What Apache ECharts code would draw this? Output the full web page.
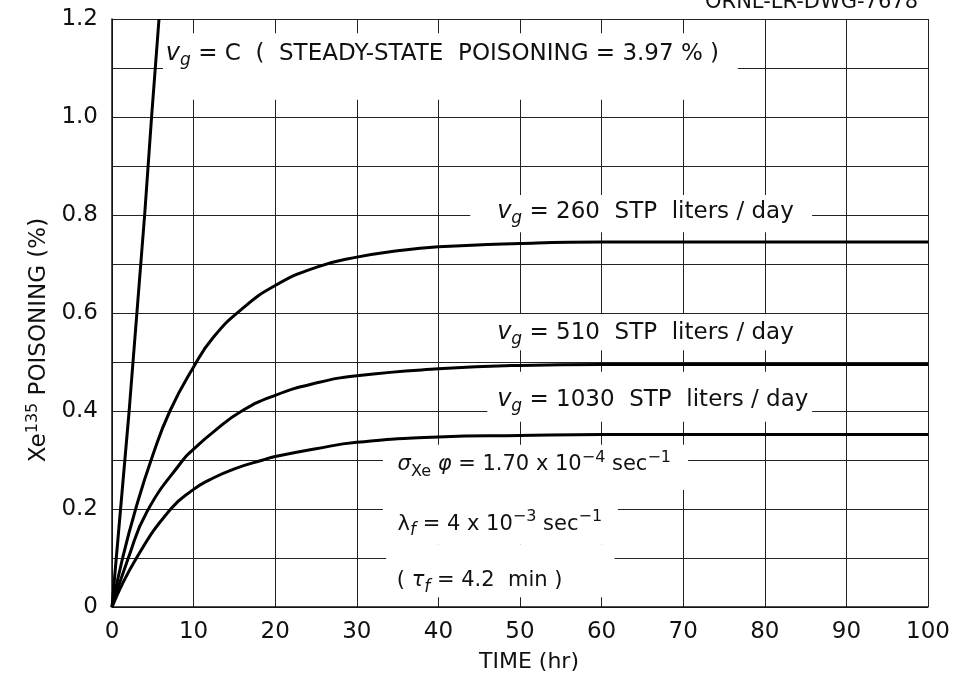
<!DOCTYPE html>
<html><head><meta charset="utf-8">
<script src="https://cdn.jsdelivr.net/npm/echarts@6/dist/echarts.min.js"></script>
<style>html,body{margin:0;padding:0;background:#fff}#c{width:954px;height:675px}</style>
</head><body><div id="c"></div>
<script>
// ---- data ----
const xTicks = [0,10,20,30,40,50,60,70,80,90,100];
const yTickLabels = ['0','0.2','0.4','0.6','0.8','1.0','1.2'];
const curveC    = [[0,0],[2.1,0.4],[4.0,0.8],[4.85,1.0],[5.76,1.2]];
const curve260  = [[0,0],[1.3,0.1],[2.9,0.2],[4.9,0.305],[7.1,0.4],[10,0.49],[12.4,0.55],[15.9,0.608],[20,0.656],[25,0.693],[30,0.714],[35,0.727],[40,0.735],[50,0.742],[60,0.745],[100,0.745]];
const curve510  = [[0,0],[2.0,0.1],[4.3,0.195],[8.6,0.298],[10,0.322],[12.4,0.357],[15.9,0.4],[20,0.432],[25,0.457],[30,0.472],[40,0.486],[50,0.493],[60,0.495],[100,0.495]];
const curve1030 = [[0,0],[3.0,0.1],[7.2,0.2],[10,0.24],[12,0.26],[15,0.282],[18.5,0.3],[20,0.307],[25,0.323],[30,0.336],[40,0.347],[50,0.35],[60,0.352],[100,0.352]];

const FONT = 'DejaVu Sans';
const INK = '#111';

function richSet(fs) {
  return {
    t:   {fontFamily: FONT, fontSize: fs, color: INK, lineHeight: 30},
    v:   {fontFamily: FONT, fontSize: fs + 1, color: INK, lineHeight: 30, fontStyle: 'italic'},
    gi:  {fontFamily: FONT, fontSize: fs, color: INK, lineHeight: 30, fontStyle: 'italic'},
    sub: {fontFamily: FONT, fontSize: 17, color: INK, lineHeight: 14, verticalAlign: 'bottom', fontStyle: 'italic'},
    subr:{fontFamily: FONT, fontSize: 16, color: INK, lineHeight: 14, verticalAlign: 'bottom'},
    sup: {fontFamily: FONT, fontSize: 16, color: INK, lineHeight: 12, verticalAlign: 'top'}
  };
}

// annotation layout (data coordinates)
const annotations = [
  {fs:23, box:[6.25,1.171,76.7,1.035], at:[6.6,1.129], text:'{v|v}{sub|g}{t| = C  (  STEADY-STATE  POISONING = 3.97 % )}'},
  {fs:23, box:[43.9,0.841,85.8,0.765], at:[47.2,0.806], text:'{v|v}{sub|g}{t| = 260  STP  liters / day}'},
  {fs:23, box:[43.9,0.598,83.1,0.524], at:[47.2,0.560], text:'{v|v}{sub|g}{t| = 510  STP  liters / day}'},
  {fs:23, box:[46.0,0.480,85.8,0.378], at:[47.2,0.423], text:'{v|v}{sub|g}{t| = 1030  STP  liters / day}'},
  {fs:21, box:[33.2,0.331,70.6,0.239], at:[35.0,0.290], text:'{gi|σ}{subr|Xe}{gi| φ}{t| = 1.70 x 10}{sup|−4}{t| sec}{sup|−1}'},
  {fs:21, box:[33.2,0.239,62.0,0.127], at:[35.0,0.169], text:'{t|λ}{sub|f}{t| = 4 x 10}{sup|−3}{t| sec}{sup|−1}'},
  {fs:21, box:[33.6,0.127,61.6,0.020], at:[34.9,0.053], text:'{t|( }{gi|τ}{sub|f}{t| = 4.2  min )}'}
];

const chart = echarts.init(document.getElementById('c'), null, {renderer: 'canvas'});
const lineStyle = {color: '#000', width: 3};
const smoothLine = {type: 'line', showSymbol: false, lineStyle, smooth: 0.5, z: 5};
const option = {
  animation: false,
  backgroundColor: '#fff',
  grid: {left: 112, right: 26, top: 19, bottom: 68, containLabel: false, outerBoundsMode: 'none'},
  xAxis: {
    type: 'value', min: 0, max: 100, interval: 10,
    axisLine: {show: true, lineStyle: {color: INK, width: 1.5}},
    axisTick: {show: false},
    axisLabel: {fontFamily: FONT, fontSize: 23, color: INK, margin: 14,
      formatter: v => xTicks.indexOf(v) >= 0 ? String(v) : ''},
    splitLine: {show: true, lineStyle: {color: '#222', width: 1}},
    name: 'TIME (hr)', nameLocation: 'middle', nameGap: 44,
    nameTextStyle: {fontFamily: FONT, fontSize: 22, color: INK, padding: [0, 0, 0, 18]}
  },
  yAxis: {
    type: 'value', min: 0, max: 1.2, interval: 0.1,
    axisLine: {show: true, lineStyle: {color: INK, width: 1.5}},
    axisTick: {show: false},
    axisLabel: {fontFamily: FONT, fontSize: 23, color: INK, margin: 14,
      formatter: v => { const k = Math.round(v * 10); return k % 2 === 0 ? yTickLabels[k / 2] : ''; }},
    splitLine: {show: true, lineStyle: {color: '#222', width: 1}},
    name: '{a|Xe}{s|135}{a| POISONING (%)}', nameLocation: 'middle', nameGap: 58, nameRotate: 90,
    nameTextStyle: {padding: [0, 54, 0, 0], rich: {
      a: {fontFamily: FONT, fontSize: 23, color: INK, lineHeight: 28},
      s: {fontFamily: FONT, fontSize: 16, color: INK, lineHeight: 12, verticalAlign: 'top'}
    }}
  },
  series: [
    {type: 'line', data: curveC, showSymbol: false, lineStyle, smooth: false, z: 5},
    Object.assign({data: curve260}, smoothLine),
    Object.assign({data: curve510}, smoothLine),
    Object.assign({data: curve1030}, smoothLine)
  ]
};
chart.setOption(option);

const g = [];
annotations.forEach(a => {
  const p1 = chart.convertToPixel({gridIndex: 0}, [a.box[0], a.box[1]]);
  const p2 = chart.convertToPixel({gridIndex: 0}, [a.box[2], a.box[3]]);
  g.push({type: 'rect', z: 1, silent: true,
    shape: {x: p1[0], y: p1[1], width: p2[0] - p1[0], height: p2[1] - p1[1]},
    style: {fill: '#fff'}});
  const p = chart.convertToPixel({gridIndex: 0}, a.at);
  g.push({type: 'text', z: 6, x: p[0], y: p[1], silent: true,
    style: {text: a.text, rich: richSet(a.fs), align: 'left', verticalAlign: 'middle',
      fontFamily: FONT, fontSize: a.fs, fill: INK}});
});
g.push({type: 'text', z: 6, right: 36, top: -8,
  style: {text: 'ORNL-LR-DWG-7678', fontFamily: FONT, fontSize: 21, fill: INK}});
chart.setOption({graphic: g});
</script>
</body></html>
